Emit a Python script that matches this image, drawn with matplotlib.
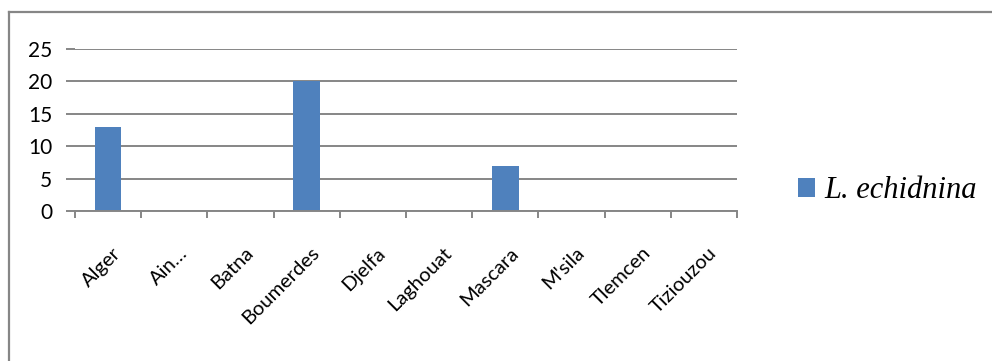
import matplotlib
matplotlib.use("Agg")
import matplotlib.pyplot as plt
from matplotlib.lines import Line2D
from matplotlib.transforms import ScaledTranslation

categories = ["Alger", "Ain…", "Batna", "Boumerdes", "Djelfa", "Laghouat",
              "Mascara", "M'sila", "Tlemcen", "Tiziouzou"]
values = [13, 0, 0, 20, 0, 0, 7, 0, 0, 0]
series_name = "L. echidnina"
y_ticks = [0, 5, 10, 15, 20, 25]

W, H = 992, 361
fig = plt.figure(figsize=(W / 100, H / 100), dpi=100)
fig.patch.set_facecolor("white")

ax = fig.add_axes([75 / W, (H - 211) / H, (737 - 75) / W, (211 - 49) / H])
x = list(range(len(categories)))
ax.bar(x, values, width=0.4, color="#4F81BD", zorder=3, label=series_name)

ax.set_xlim(-0.5, len(categories) - 0.5)
ax.set_ylim(0, 25)
ax.set_yticks(y_ticks)
ax.set_yticklabels([str(t) for t in y_ticks], fontsize=15, family="Lato")
ax.yaxis.grid(True, color="#868686", linewidth=1.4, zorder=0)
ax.set_axisbelow(True)
for s in ["top", "right", "left"]:
    ax.spines[s].set_visible(False)
ax.spines["bottom"].set_color("#868686")
ax.spines["bottom"].set_linewidth(1.4)
ax.spines["bottom"].set_zorder(4)
ax.tick_params(axis="y", length=6.5, width=1.4, color="#868686", pad=10)

# category boundary ticks
ax.set_xticks([i - 0.5 for i in range(len(categories) + 1)])
ax.set_xticklabels([])
ax.tick_params(axis="x", which="major", length=5, width=1.4, color="#868686")
ax.set_xticks(x, minor=True)
ax.set_xticklabels(categories, minor=True, rotation=45, ha="right", va="top",
                   rotation_mode="anchor", fontsize=14.5, family="Lato")
ax.tick_params(axis="x", which="minor", length=0, pad=24)
shift = ScaledTranslation(4 / 100, 0, fig.dpi_scale_trans)
for lbl in ax.get_xticklabels(minor=True):
    lbl.set_transform(lbl.get_transform() + shift)

fig.legend(loc="center left", bbox_to_anchor=(786 / W, (H - 191) / H),
           frameon=False, handlelength=0.55, handleheight=0.55,
           handletextpad=0.3, borderaxespad=0,
           prop={"family": "Liberation Serif", "style": "italic", "size": 22})

# outer chart border (only top and left edges are visible in the frame)
fig.add_artist(Line2D([8.5 / W, 8.5 / W], [0, (H - 12) / H],
                      transform=fig.transFigure, color="#868686", linewidth=1.6))
fig.add_artist(Line2D([8.5 / W, 1], [(H - 12) / H, (H - 12) / H],
                      transform=fig.transFigure, color="#868686", linewidth=1.6))

fig.savefig("out.png", dpi=100)
